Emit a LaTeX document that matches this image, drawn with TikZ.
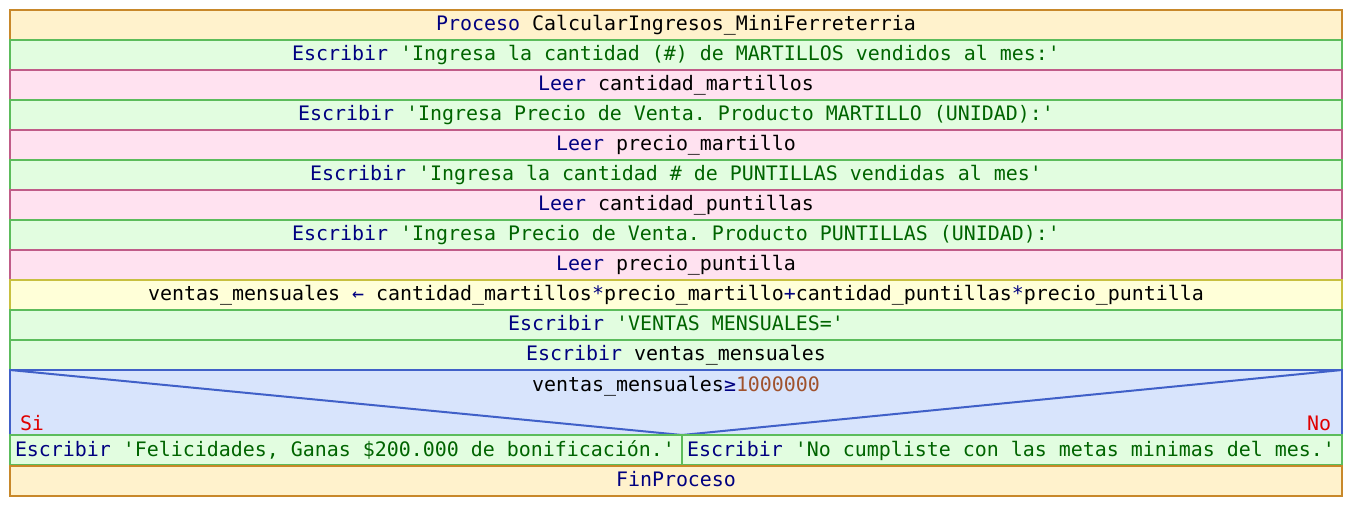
\documentclass[tikz,border=0pt]{standalone}
\usepackage{fontspec}
\setmonofont{DejaVu Sans Mono}
\definecolor{kw}{HTML}{000080}
\definecolor{st}{HTML}{006400}
\definecolor{nm}{HTML}{A0522D}
\definecolor{rd}{HTML}{E00000}
\definecolor{procF}{HTML}{FFF2CC}
\definecolor{procD}{HTML}{C8882A}
\definecolor{escF}{HTML}{E2FDE0}
\definecolor{escD}{HTML}{5CBC5C}
\definecolor{leeF}{HTML}{FFE2F0}
\definecolor{leeD}{HTML}{C05C88}
\definecolor{asgF}{HTML}{FFFFD8}
\definecolor{asgD}{HTML}{C8C040}
\definecolor{decF}{HTML}{D8E4FC}
\definecolor{decD}{HTML}{4060C8}
\newcommand{\K}[1]{\textcolor{kw}{#1}}
\newcommand{\Sg}[1]{\textcolor{st}{#1}}
\newcommand{\q}{\char"27\relax}
\tikzset{
  rowbox/.style={draw, line width=2pt, rectangle, anchor=north west, inner sep=0pt, outer sep=0pt,
    minimum width=1332pt, minimum height=30pt, text height=15pt, text depth=4pt,
    font=\ttfamily\fontsize{19.93}{24}\selectfont},
  proc/.style={rowbox, fill=procF, draw=procD},
  esc/.style={rowbox, fill=escF, draw=escD},
  lee/.style={rowbox, fill=leeF, draw=leeD},
  asg/.style={rowbox, fill=asgF, draw=asgD},
  dec/.style={rowbox, fill=decF, draw=decD, minimum height=65pt},
  txt/.style={inner sep=0pt, outer sep=0pt, font=\ttfamily\fontsize{19.93}{24}\selectfont},
  vline/.style={draw=decD, line width=2pt}
}
\begin{document}
\begin{tikzpicture}[x=1pt,y=-1pt]
\useasboundingbox (0,0) rectangle (1352,506);
\node[proc] (r0) at (10,10) {\K{Proceso} CalcularIngresos\_MiniFerreterria};
\node[esc] (r1) at (10,40) {\K{Escribir} \Sg{\q Ingresa la cantidad (\#) de MARTILLOS vendidos al mes:\q}};
\node[lee] (r2) at (10,70) {\K{Leer} cantidad\_martillos};
\node[esc] (r3) at (10,100) {\K{Escribir} \Sg{\q Ingresa Precio de Venta. Producto MARTILLO (UNIDAD):\q}};
\node[lee] (r4) at (10,130) {\K{Leer} precio\_martillo};
\node[esc] (r5) at (10,160) {\K{Escribir} \Sg{\q Ingresa la cantidad \# de PUNTILLAS vendidas al mes\q}};
\node[lee] (r6) at (10,190) {\K{Leer} cantidad\_puntillas};
\node[esc] (r7) at (10,220) {\K{Escribir} \Sg{\q Ingresa Precio de Venta. Producto PUNTILLAS (UNIDAD):\q}};
\node[lee] (r8) at (10,250) {\K{Leer} precio\_puntilla};
\node[asg] (r9) at (10,280) {ventas\_mensuales \K{←} cantidad\_martillos\K{*}precio\_martillo\K{+}cantidad\_puntillas\K{*}precio\_puntilla};
\node[esc] (r10) at (10,310) {\K{Escribir} \Sg{\q VENTAS MENSUALES=\q}};
\node[esc] (r11) at (10,340) {\K{Escribir} ventas\_mensuales};
\node[dec] (d) at (10,370) {};
\coordinate (vb) at (682,435);
\draw[vline] (d.north west) -- (vb);
\draw[vline] (d.north east) -- (vb);
\node[txt, anchor=base] (cond) at (676,391) {ventas\_mensuales\K{≥}\textcolor{nm}{1000000}};
\node[txt, anchor=base west, text=rd] (si) at (20,430) {Si};
\node[txt, anchor=base east, text=rd] (no) at (1331,430) {No};
\node[esc, minimum width=672pt] (bl) at (10,435) {};
\node[esc, minimum width=660pt] (br) at (682,435) {};
\node[txt, anchor=base west] (tl) at (15,456) {\K{Escribir} \Sg{\q Felicidades, Ganas \$200.000 de bonificación.\q}};
\node[txt, anchor=base west] (tr) at (687,456) {\K{Escribir} \Sg{\q No cumpliste con las metas minimas del mes.\q}};
\node[proc] (fin) at (10,466) {\K{FinProceso}};
\end{tikzpicture}
\end{document}
